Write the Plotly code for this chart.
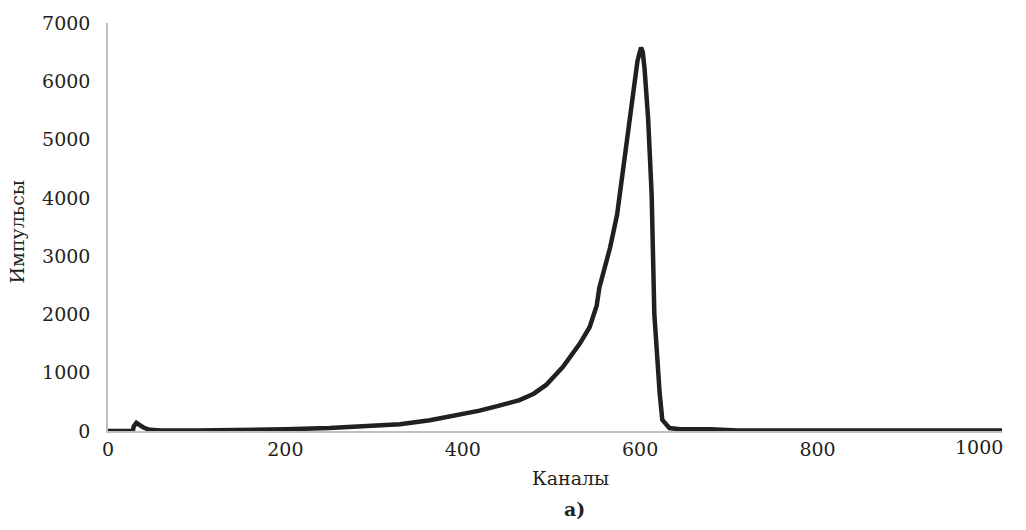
import plotly.graph_objects as go

# Channel numbers (x) and counts (y)
channels = [0, 28, 29, 32, 35, 40, 47, 60, 100, 150,
            200, 250, 306, 329, 363, 390, 419, 440, 464, 480,
            494, 513, 532, 543, 551, 554, 566, 574, 579, 585,
            590, 594, 597, 601, 603, 605, 609, 613, 616, 622,
            625, 633, 645, 680, 701, 710, 800, 900, 1008]
counts = [0, 0, 80, 140, 110, 60, 20, 10, 10, 15,
          30, 50, 85, 115, 185, 260, 350, 430, 530, 640,
          790, 1100, 1500, 1780, 2150, 2460, 3140, 3710, 4280, 4960,
          5470, 6040, 6350, 6580, 6500, 6210, 5360, 4050, 2010, 650,
          190, 50, 30, 30, 25, 10, 8, 8, 8]

x_ticks = [0, 200, 400, 600, 800]
x_last_label = "1000"
y_ticks = [0, 1000, 2000, 3000, 4000, 5000, 6000, 7000]

FONT = "DejaVu Serif"
TXT = "#231f20"

fig = go.Figure()
fig.add_trace(go.Scatter(x=channels, y=counts, mode="lines",
                         line=dict(color=TXT, width=4.5), showlegend=False,
                         hoverinfo="skip"))

fig.update_layout(
    width=1026, height=530,
    margin=dict(l=108, r=24, t=20, b=99),
    paper_bgcolor="white", plot_bgcolor="white",
    font=dict(family=FONT, size=19, color=TXT),
    xaxis=dict(range=[0, 1008], tickvals=x_ticks, showgrid=False, zeroline=False,
               showline=True, linecolor="#bfbfbf", linewidth=1.5, ticks="",
               ticklabelstandoff=0, tickfont=dict(family=FONT, size=19, color=TXT)),
    yaxis=dict(range=[0, 7000], tickvals=y_ticks, showgrid=False, zeroline=False,
               showline=True, linecolor="#bfbfbf", linewidth=1.5, ticks="",
               ticklabelstandoff=12, tickfont=dict(family=FONT, size=19, color=TXT)),
    annotations=[
        # Excel pulls the last tick label inward so it fits in the chart area
        dict(text=x_last_label, xref="paper", yref="paper", x=1, y=0,
             xanchor="right", yanchor="top", xshift=3, yshift=-3, showarrow=False,
             font=dict(family=FONT, size=19, color=TXT)),
        dict(text="Каналы", xref="paper", yref="paper", x=0.517, y=-0.114,
             showarrow=False, xanchor="center", yanchor="middle",
             font=dict(family=FONT, size=19, color=TXT)),
        dict(text="<b>а)</b>", xref="paper", yref="paper", x=0.522, y=-0.192,
             showarrow=False, xanchor="center", yanchor="middle",
             font=dict(family=FONT, size=19, color=TXT)),
        dict(text="Импульсы", xref="paper", yref="paper", x=-0.1007, y=0.489,
             showarrow=False, xanchor="center", yanchor="middle", textangle=-90,
             font=dict(family=FONT, size=19, color=TXT)),
    ],
)

fig.write_html("out.html")
